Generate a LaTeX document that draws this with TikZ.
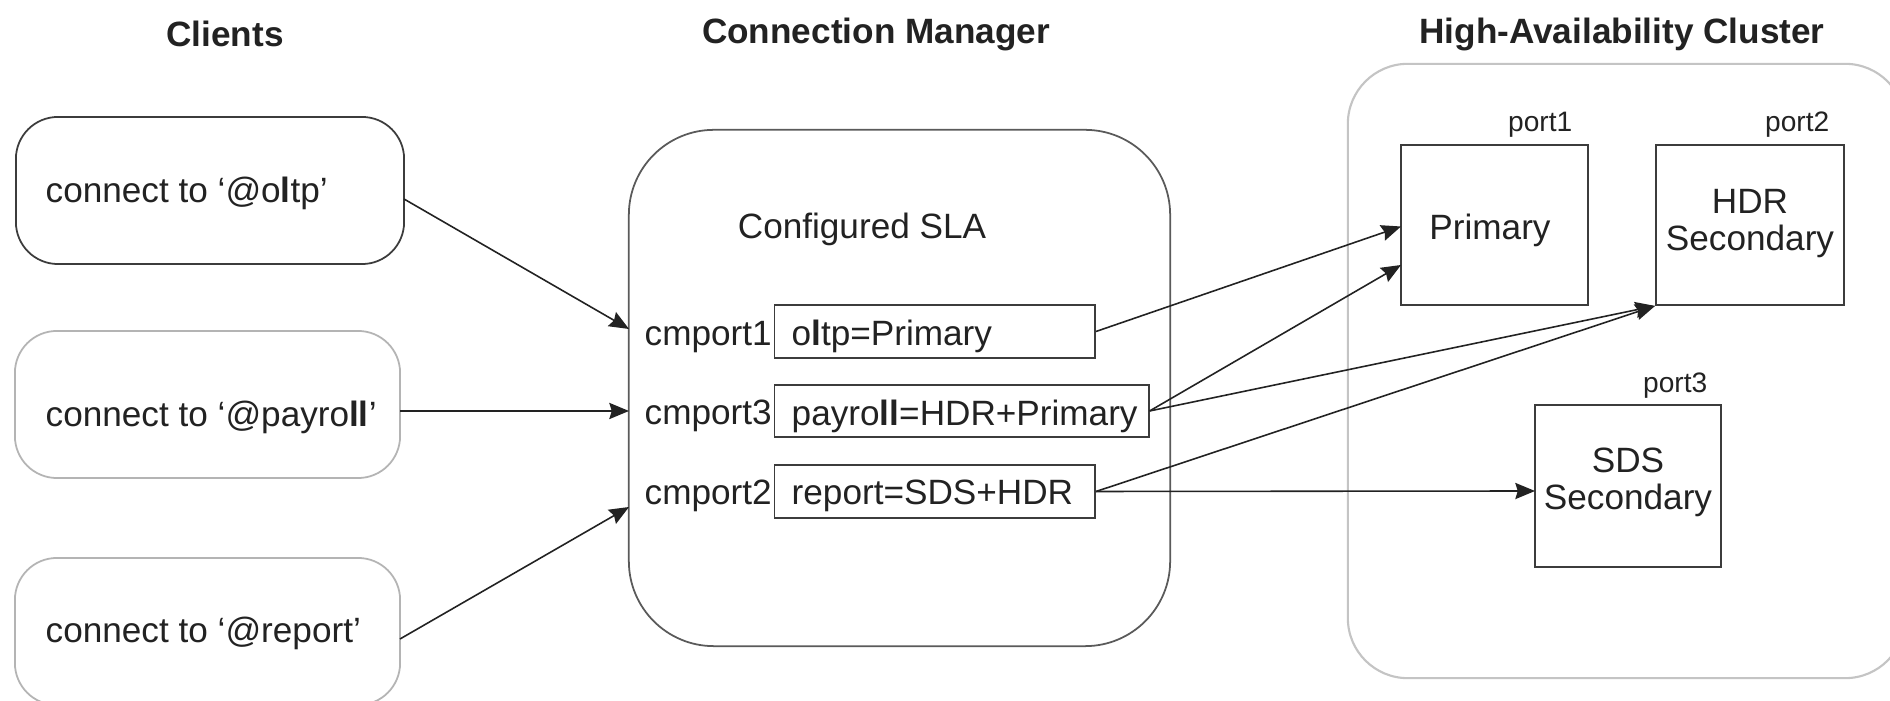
\documentclass[tikz,border=0pt]{standalone}
\usepackage{fontspec}
\setmainfont{Liberation Sans}
\usetikzlibrary{arrows.meta}
\definecolor{ink}{HTML}{222222}
\definecolor{darkline}{HTML}{3C3C3C}
\definecolor{midline}{HTML}{5A5A5A}
\definecolor{lightline}{HTML}{B4B4B4}
\definecolor{paleline}{HTML}{C4C4C4}
\tikzset{
  txt/.style={inner sep=0pt, text=ink, font=\fontsize{10pt}{12pt}\selectfont},
  ttl/.style={inner sep=0pt, text=ink, font=\fontsize{10pt}{12pt}\selectfont\bfseries},
  portlbl/.style={inner sep=0pt, text=ink, font=\fontsize{8pt}{9.6pt}\selectfont, anchor=east},
  cbox/.style={draw, rounded corners=0.42cm, line width=0.5pt, inner sep=0pt},
  slabox/.style={draw=darkline, line width=0.5pt, inner sep=0pt, minimum height=0.525cm},
  srv/.style={draw=darkline, line width=0.5pt, inner sep=0pt},
  arr/.style={draw=ink, line width=0.45pt, -{Stealth[length=5.6pt,width=4.6pt,inset=0.7pt]}},
}
\begin{document}
\begin{tikzpicture}[x=0.01cm,y=-0.01cm]
\useasboundingbox (0,0) rectangle (1890,701);
\clip (0,0) rectangle (1890,701);
\fill[white] (0,0) rectangle (1890,701);

% titles
\node[ttl] (tclients) at (225,34) {Clients};
\node[ttl] (tcm) at (876,34) {Connection Manager};
\node[ttl] (tha) at (1622,34) {High-Availability Cluster};

% client boxes
\node[cbox, draw=darkline, minimum width=3.88cm, minimum height=1.47cm] (c1) at (210,190.5) {};
\node[cbox, draw=lightline, minimum width=3.85cm, minimum height=1.47cm] (c2) at (207.5,404.5) {};
\node[cbox, draw=lightline, minimum width=3.85cm, minimum height=1.47cm] (c3) at (207.5,631.5) {};
\node[txt, anchor=west] (c1t) at (45,193) {connect to ‘@o\textbf{l}tp’};
\node[txt, anchor=west] (c2t) at (45,417) {connect to ‘@payro\textbf{ll}’};
\node[txt, anchor=west] (c3t) at (45,633) {connect to ‘@report’};

% connection manager
\node[draw=midline, line width=0.5pt, rounded corners=0.85cm, inner sep=0pt,
      minimum width=5.41cm, minimum height=5.16cm] (cm) at (899.5,388) {};
\node[txt] (sla) at (862,229) {Configured SLA};
\node[txt, anchor=west] (p1) at (644,337) {cmport1};
\node[txt, anchor=west] (p3) at (644,416) {cmport3};
\node[txt, anchor=west] (p2) at (644,496) {cmport2};
\node[slabox, minimum width=3.204cm] (s1) at (934.8,331.5) {};
\node[slabox, minimum width=3.74cm] (s2) at (961.6,411) {};
\node[slabox, minimum width=3.204cm] (s3) at (934.8,491.5) {};
\node[txt, anchor=west] (s1t) at (791,336) {o\textbf{l}tp=Primary};
\node[txt, anchor=west] (s2t) at (791,416) {payro\textbf{ll}=HDR+Primary};
\node[txt, anchor=west] (s3t) at (791,496) {report=SDS+HDR};

% HA cluster
\node[draw=paleline, line width=0.6pt, rounded corners=0.6cm, inner sep=0pt,
      minimum width=5.57cm, minimum height=6.14cm] (ha) at (1626.5,371) {};
\node[srv, minimum width=1.87cm, minimum height=1.6cm] (prim) at (1494.5,225) {};
\node[srv, minimum width=1.88cm, minimum height=1.6cm] (hdr) at (1750,225) {};
\node[srv, minimum width=1.86cm, minimum height=1.62cm] (sds) at (1628,486) {};
\node[txt] (primt) at (1490,230) {Primary};
\node[txt, align=center] (hdrt) at (1750,224) {HDR\\[-1.5pt]Secondary};
\node[txt, align=center] (sdst) at (1628,482) {SDS\\[-1.5pt]Secondary};
\node[portlbl] (port1) at (1573,125) {port1};
\node[portlbl] (port2) at (1830,125) {port2};
\node[portlbl] (port3) at (1708,386) {port3};

% connector end points
\coordinate (c1o) at (404,199);
\coordinate (c2o) at (400,411);
\coordinate (c3o) at (400,639);
\coordinate (cm1) at (629,329);
\coordinate (cm3) at (629,411);
\coordinate (cm2) at (629,507);
\coordinate (primA) at (1401,226.5);
\coordinate (primB) at (1401,265);
\coordinate (sdsin) at (1535,491);

% connectors
\draw[arr] (c1o) -- (cm1);
\draw[arr] (c2o) -- (cm3);
\draw[arr] (c3o) -- (cm2);
\draw[arr] (s1.east) -- (primA);
\draw[arr] (s2.east) -- (primB);
\draw[arr] (s2.east) -- (hdr.south west);
\draw[arr] (s3.east) -- (hdr.south west);
\draw[arr] (s3.east) -- (sdsin);
\end{tikzpicture}
\end{document}
